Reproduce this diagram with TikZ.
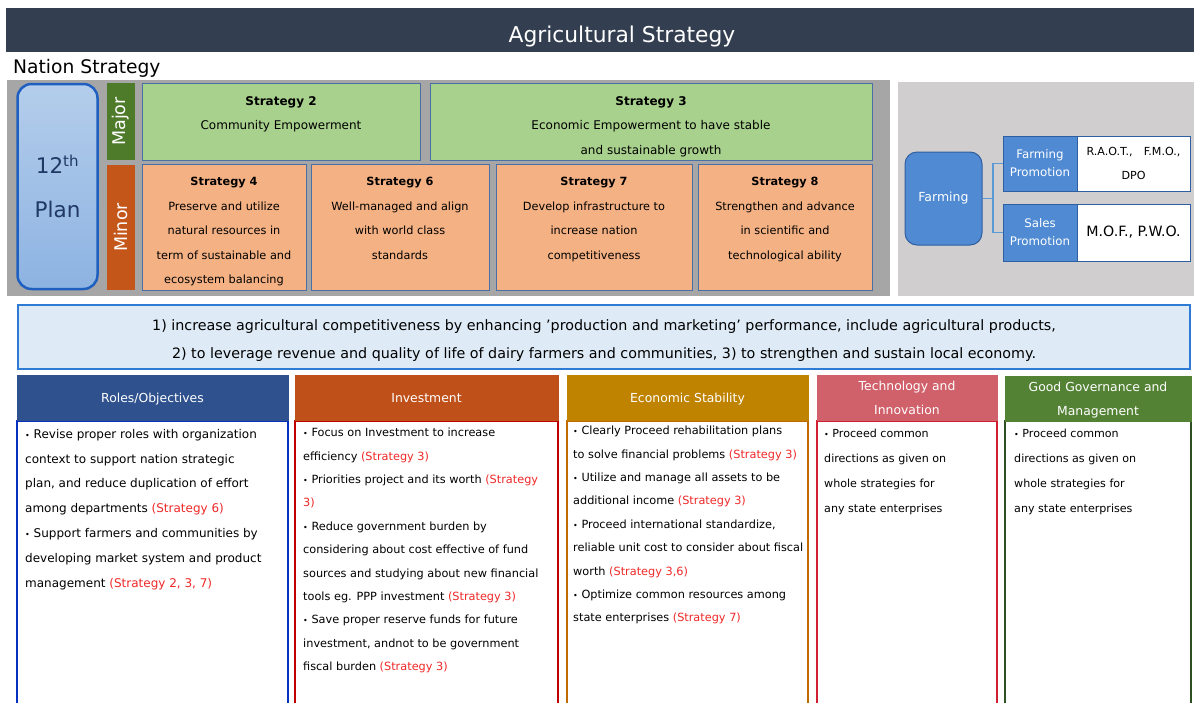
\documentclass[tikz,border=0pt]{standalone}
\usepackage{fontspec}
\setmainfont{DejaVu Sans}
\usepackage{xcolor}
\usepackage{tikz}
\usetikzlibrary{positioning}

\definecolor{barslate}{HTML}{333F50}
\definecolor{panelgray}{HTML}{A6A6A6}
\definecolor{panellight}{HTML}{D0CECE}
\definecolor{plantop}{HTML}{B4CDEB}
\definecolor{planbot}{HTML}{8DB3E2}
\definecolor{planline}{HTML}{1F5FBF}
\definecolor{plantext}{HTML}{1F3864}
\definecolor{majorgreen}{HTML}{4E7B2A}
\definecolor{minororange}{HTML}{C5561A}
\definecolor{stratgreen}{HTML}{A9D18E}
\definecolor{stratorange}{HTML}{F4B183}
\definecolor{stratline}{HTML}{4A6FA5}
\definecolor{farmblue}{HTML}{4F8AD3}
\definecolor{farmline}{HTML}{2F5FA0}
\definecolor{linkblue}{HTML}{5B9BD5}
\definecolor{bannerfill}{HTML}{DEEBF7}
\definecolor{bannerline}{HTML}{2E7BD6}
\definecolor{refred}{HTML}{F02828}
\definecolor{rolehead}{HTML}{2F528F}
\definecolor{roleline}{HTML}{0530C0}
\definecolor{investhead}{HTML}{C0501A}
\definecolor{investline}{HTML}{C00000}
\definecolor{stabhead}{HTML}{BF8300}
\definecolor{stabline}{HTML}{C06A00}
\definecolor{techhead}{HTML}{D0606A}
\definecolor{techline}{HTML}{D02030}
\definecolor{govhead}{HTML}{548235}
\definecolor{govline}{HTML}{2F5020}

\newcommand{\stratref}[1]{\textcolor{refred}{(#1)}}
\newcommand{\itembul}{{\fontsize{8}{8}\selectfont\textbullet}~}

\begin{document}
\begin{tikzpicture}[x=1pt, y=-1pt,
    panel/.style={rectangle, inner sep=0pt},
    stratbox/.style={rectangle, draw=stratline, line width=1pt, inner sep=0pt},
    strattext/.style={align=center, inner sep=0pt, anchor=north, font=\fontsize{11.3}{24.5}\selectfont},
    sidetag/.style={rectangle, rotate=90, text=white, inner sep=0pt, minimum height=28pt, font=\fontsize{17.5}{17.5}\selectfont},
    promo/.style={rectangle, draw=farmline, fill=farmblue, text=white, line width=1pt, align=center, minimum width=74pt, font=\fontsize{11.8}{18}\selectfont},
    agency/.style={rectangle, draw=farmline, fill=white, line width=1pt, align=center, minimum width=113pt, font=\fontsize{11.1}{24}\selectfont},
    link/.style={draw=linkblue, line width=1.5pt},
    colhead/.style={rectangle, draw=#1, fill=#1, text=white, line width=1pt, minimum height=45pt, inner sep=1pt, text depth=0pt, align=center, font=\fontsize{12.4}{24}\selectfont},
    colbody/.style={rectangle, draw=#1, fill=white, line width=2pt, minimum height=290pt, anchor=north},
    bodytext/.style={anchor=north west, align=left, inner sep=0pt, font=\fontsize{11.3}{24.8}\selectfont}
]
    \useasboundingbox (0,0) rectangle (1194,702);
    \fill[white] (0,0) rectangle (1194,702);

    % Title
    \fill[barslate] (6,8) rectangle (1194,52);
    \node[text=white, inner sep=0pt, font=\fontsize{21.8}{21.8}\selectfont] (title) at (622,36) {Agricultural Strategy};
    \node[anchor=west, inner sep=0pt, font=\fontsize{18.7}{18.7}\selectfont] (nation) at (13,68) {Nation Strategy};

    % Panels
    \node[panel, fill=panelgray, minimum width=883pt, minimum height=216pt] (leftpanel) at (448.5,188) {};
    \node[panel, fill=panellight, minimum width=296pt, minimum height=214pt] (rightpanel) at (1046,189) {};

    % 12th Plan
    \node[rectangle, rounded corners=14pt, draw=planline, line width=2.5pt, top color=plantop, bottom color=planbot,
          minimum width=80pt, minimum height=205pt, text=plantext, align=center,
          font=\fontsize{21.5}{44}\selectfont] (plan) at (57.5,186.5) {12\textsuperscript{th}\\Plan};

    % Major / Minor
    \node[sidetag, fill=majorgreen, minimum width=77pt] (major) at (121,121.5) {Major};
    \node[sidetag, fill=minororange, minimum width=125pt] (minor) at (121,227.5) {Minor};

    % Major strategies
    \node[stratbox, fill=stratgreen, minimum width=278pt, minimum height=77pt] (s2) at (281,121.5) {};
    \node[stratbox, fill=stratgreen, minimum width=442pt, minimum height=77pt] (s3) at (651,121.5) {};
    \node[strattext, font=\fontsize{12}{24.5}\selectfont, below=13.5pt of s2.north] (s2text) {\textbf{Strategy 2}\\Community Empowerment};
    \node[strattext, font=\fontsize{12}{24.5}\selectfont, below=13.5pt of s3.north] (s3text) {\textbf{Strategy 3}\\Economic Empowerment to have stable\\and sustainable growth};

    % Minor strategies
    \node[stratbox, fill=stratorange, minimum width=164pt, minimum height=126pt] (s4) at (224,227) {};
    \node[stratbox, fill=stratorange, minimum width=178pt, minimum height=126pt] (s6) at (400,227) {};
    \node[stratbox, fill=stratorange, minimum width=196pt, minimum height=126pt] (s7) at (594,227) {};
    \node[stratbox, fill=stratorange, minimum width=174pt, minimum height=126pt] (s8) at (785,227) {};
    \node[strattext, below=13.5pt of s4.north] (s4text) {\textbf{Strategy 4}\\Preserve and utilize\\natural resources in\\term of sustainable and\\ecosystem balancing};
    \node[strattext, below=13.5pt of s6.north] (s6text) {\textbf{Strategy 6}\\Well-managed and align\\with world class\\standards};
    \node[strattext, below=13.5pt of s7.north] (s7text) {\textbf{Strategy 7}\\Develop infrastructure to\\increase nation\\competitiveness};
    \node[strattext, below=13.5pt of s8.north] (s8text) {\textbf{Strategy 8}\\Strengthen and advance\\in scientific and\\technological ability};

    % Farming
    \node[rectangle, rounded corners=12pt, draw=farmline, fill=farmblue, line width=1pt, text=white,
          minimum width=77pt, minimum height=93pt, font=\fontsize{12.5}{12.5}\selectfont] (farm) at (943.5,198.5) {Farming};
    \node[promo, minimum height=55pt] (fprom) at (1040,163.5) {Farming\\Promotion};
    \node[agency, minimum height=55pt] (fagency) at (1133.5,163.5) {R.A.O.T.,\quad F.M.O.,\\DPO};
    \node[promo, minimum height=57pt] (sprom) at (1040,232.5) {Sales\\Promotion};
    \node[agency, minimum height=57pt, font=\fontsize{14.2}{14.2}\selectfont] (sagency) at (1133.5,232.5) {M.O.F., P.W.O.};
    \coordinate (fork) at (993,198.5);
    \draw[link] (farm.east) -- (fork) |- (fprom.west);
    \draw[link] (fork) |- (sprom.west);

    % Banner
    \node[rectangle, draw=bannerline, fill=bannerfill, line width=2.5pt, minimum width=1172pt, minimum height=64pt] (banner) at (604,337) {};
    \node[align=center, inner sep=0pt, font=\fontsize{14.3}{28}\selectfont] (bannertext) at (604,341)
          {1) increase agricultural competitiveness by enhancing 'production and marketing' performance, include agricultural products,\\
           2) to leverage revenue and quality of life of dairy farmers and communities, 3) to strengthen and sustain local economy.};

    % Columns
    \node[colbody=roleline, minimum width=271pt] (rolebody) at (152.5,420) {};
    \node[colbody=investline, minimum width=263pt] (investbody) at (426.5,420) {};
    \node[colbody=stabline, minimum width=241pt] (stabbody) at (687.5,420) {};
    \node[colbody=techline, minimum width=180pt] (techbody) at (907,420) {};
    \node[colbody=govline, minimum width=186pt] (govbody) at (1098,420) {};

    \node[colhead=rolehead, minimum width=271pt] (rolecol) at (152.5,397.5) {Roles/Objectives};
    \node[colhead=investhead, minimum width=263pt] (investcol) at (426.5,397.5) {Investment};
    \node[colhead=stabhead, minimum width=241pt] (stabcol) at (687.5,397.5) {Economic Stability};
    \node[colhead=techhead, minimum width=180pt] (techcol) at (907,397.5) {Technology and\\Innovation};
    \node[colhead=govhead, minimum width=186pt] (govcol) at (1098,399) {Good Governance and\\Management};

    \node[bodytext, font=\fontsize{12}{24.8}\selectfont] (roletext) at (25,429) {\itembul Revise proper roles with organization\\context to support nation strategic\\plan, and reduce duplication of effort\\among departments \stratref{Strategy 6}\\\itembul Support farmers and communities by\\developing market system and product\\management \stratref{Strategy 2, 3, 7}};
    \node[bodytext, font=\fontsize{11.3}{23.4}\selectfont] (investtext) at (303,428) {\itembul Focus on Investment to increase\\efficiency \stratref{Strategy 3}\\\itembul Priorities project and its worth \textcolor{refred}{(Strategy}\\\textcolor{refred}{3)}\\\itembul Reduce government burden by\\considering about cost effective of fund\\sources and studying about new financial\\tools eg. PPP investment \stratref{Strategy 3}\\\itembul Save proper reserve funds for future\\investment, andnot to be government\\fiscal burden \stratref{Strategy 3}};
    \node[bodytext, font=\fontsize{11.3}{23.4}\selectfont] (stabtext) at (573,426) {\itembul Clearly Proceed rehabilitation plans\\to solve financial problems \stratref{Strategy 3}\\\itembul Utilize and manage all assets to be\\additional income \stratref{Strategy 3}\\\itembul Proceed international standardize,\\reliable unit cost to consider about fiscal\\worth \stratref{Strategy 3,6}\\\itembul Optimize common resources among\\state enterprises \stratref{Strategy 7}};
    \node[bodytext, font=\fontsize{11.1}{24.8}\selectfont] (techtext) at (824,429) {\itembul Proceed common\\directions as given on\\whole strategies for\\any state enterprises};
    \node[bodytext, font=\fontsize{11.1}{24.8}\selectfont] (govtext) at (1014,429) {\itembul Proceed common\\directions as given on\\whole strategies for\\any state enterprises};
\end{tikzpicture}
\end{document}
